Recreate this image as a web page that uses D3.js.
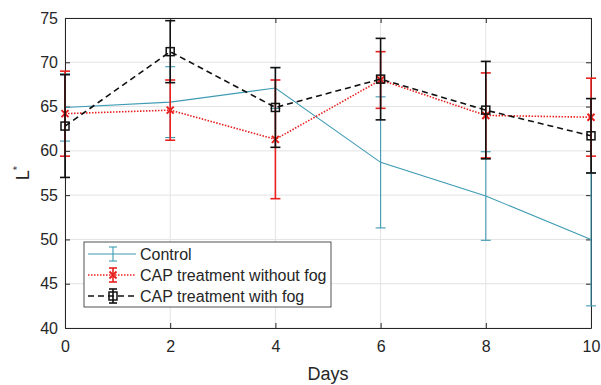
<!DOCTYPE html>
<html>
<head>
<meta charset="utf-8">
<script src="https://d3js.org/d3.v7.min.js"></script>
<style>
  body { margin: 0; background: #fff; }
  text { font-family: "Liberation Sans", Arial, sans-serif; fill: #262626; }
</style>
</head>
<body>
<div id="chart"></div>
<script>
// data
const days = [0, 2, 4, 6, 8, 10];
const controlMean = [64.9, 65.5, 67.1, 58.7, 54.9, 50.0];
const controlErr = [3.8, 4.0, 2.3, 7.4, 5.0, 7.5];
const noFogMean = [64.2, 64.6, 61.3, 68.0, 64.0, 63.8];
const noFogErr = [4.8, 3.4, 6.7, 3.2, 4.8, 4.4];
const fogMean = [62.8, 71.2, 64.9, 68.1, 64.6, 61.7];
const fogErr = [5.8, 3.5, 4.5, 4.6, 5.5, 4.2];
const xTicks = [0, 2, 4, 6, 8, 10];
const yTicks = [40, 45, 50, 55, 60, 65, 70, 75];

const W = 601, H = 385;
const margin = { top: 18, right: 10, bottom: 57, left: 65 };
const width = W - margin.left - margin.right;
const height = H - margin.top - margin.bottom;

const svg = d3.select("#chart").append("svg")
    .attr("width", W).attr("height", H);
const g = svg.append("g")
    .attr("transform", `translate(${margin.left},${margin.top})`);

const x = d3.scaleLinear().domain([0, 10]).range([0, width]);
const y = d3.scaleLinear().domain([40, 75]).range([height, 0]);

// grid
g.append("g").selectAll("line").data(xTicks).enter().append("line")
    .attr("x1", d => x(d)).attr("x2", d => x(d))
    .attr("y1", 0).attr("y2", height)
    .attr("stroke", "#e3e3e3");
g.append("g").selectAll("line").data(yTicks).enter().append("line")
    .attr("x1", 0).attr("x2", width)
    .attr("y1", d => y(d)).attr("y2", d => y(d))
    .attr("stroke", "#e3e3e3");

// axes (MATLAB style: inward ticks, box)
const axStyle = a => {
    a.select(".domain").attr("stroke", "#262626");
    a.selectAll(".tick line").attr("stroke", "#262626");
    a.selectAll("text").style("font-size", "16px").attr("fill", "#262626");
};
g.append("g").attr("transform", `translate(0,${height})`)
    .call(d3.axisBottom(x).tickValues(xTicks).tickSizeInner(-5).tickSizeOuter(0).tickPadding(13))
    .call(axStyle);
g.append("g")
    .call(d3.axisLeft(y).tickValues(yTicks).tickSizeInner(-5).tickSizeOuter(0).tickPadding(7))
    .call(axStyle);
g.append("g")
    .call(d3.axisTop(x).tickValues(xTicks).tickSizeInner(-5).tickSizeOuter(0).tickFormat(""))
    .call(axStyle);
g.append("g").attr("transform", `translate(${width},0)`)
    .call(d3.axisRight(y).tickValues(yTicks).tickSizeInner(-5).tickSizeOuter(0).tickFormat(""))
    .call(axStyle);

// series
function drawSeries(mean, err, color, dash, lw, marker) {
    const pts = days.map((d, i) => ({ d, m: mean[i], e: err[i] }));
    const line = d3.line().x(p => x(p.d)).y(p => y(p.m));
    g.append("path").datum(pts)
        .attr("fill", "none").attr("stroke", color)
        .attr("stroke-width", lw).attr("stroke-dasharray", dash)
        .attr("d", line);
    const eb = g.append("g");
    pts.forEach(p => {
        const cx = x(p.d), top = y(p.m + p.e), bot = y(p.m - p.e);
        eb.append("line").attr("x1", cx).attr("x2", cx).attr("y1", top).attr("y2", bot)
            .attr("stroke", color).attr("stroke-width", lw);
        [top, bot].forEach(yy => eb.append("line")
            .attr("x1", cx - 5).attr("x2", cx + 5).attr("y1", yy).attr("y2", yy)
            .attr("stroke", color).attr("stroke-width", lw));
        marker(eb, cx, y(p.m));
    });
}
const noMarker = () => {};
const xMarker = (sel, cx, cy) => {
    sel.append("path").attr("d", `M${cx-3.5},${cy-3.5}L${cx+3.5},${cy+3.5}M${cx-3.5},${cy+3.5}L${cx+3.5},${cy-3.5}`)
        .attr("stroke", "#e8201e").attr("stroke-width", 2);
};
const sqMarker = (sel, cx, cy) => {
    sel.append("rect").attr("x", cx - 4).attr("y", cy - 4).attr("width", 8).attr("height", 8)
        .attr("fill", "none").attr("stroke", "#111").attr("stroke-width", 1.5);
};

drawSeries(controlMean, controlErr, "#3f9bb3", null, 1.1, noMarker);
drawSeries(noFogMean, noFogErr, "#e8201e", "1.5,1.5", 1.6, xMarker);
drawSeries(fogMean, fogErr, "#111", "6,4", 1.6, sqMarker);

// legend
const legend = svg.append("g").attr("transform", "translate(84,242)");
legend.append("rect").attr("width", 247).attr("height", 65)
    .attr("fill", "#fff").attr("stroke", "#262626").attr("stroke-width", 0.8);
const entries = [
    { name: "Control", color: "#3f9bb3", dash: null, lw: 1.1, marker: noMarker },
    { name: "CAP treatment without fog", color: "#e8201e", dash: "1.5,1.5", lw: 1.6, marker: xMarker },
    { name: "CAP treatment with fog", color: "#111", dash: "6,4", lw: 1.6, marker: sqMarker }
];
entries.forEach((e, i) => {
    const yy = 12 + i * 21;
    const r = legend.append("g");
    r.append("line").attr("x1", 4).attr("x2", 52).attr("y1", yy).attr("y2", yy)
        .attr("stroke", e.color).attr("stroke-width", e.lw).attr("stroke-dasharray", e.dash);
    r.append("line").attr("x1", 29).attr("x2", 29).attr("y1", yy - 7).attr("y2", yy + 7)
        .attr("stroke", e.color).attr("stroke-width", e.lw);
    [yy - 7, yy + 7].forEach(v => r.append("line").attr("x1", 25).attr("x2", 33)
        .attr("y1", v).attr("y2", v).attr("stroke", e.color).attr("stroke-width", e.lw));
    e.marker(r, 29, yy);
    r.append("text").attr("x", 56).attr("y", yy + 6).style("font-size", "16px").text(e.name);
});

// axis labels
svg.append("text").attr("x", margin.left + width / 2).attr("y", 380)
    .attr("text-anchor", "middle").style("font-size", "18px").text("Days");
const yl = svg.append("text")
    .attr("transform", `translate(29,173) rotate(-90)`)
    .attr("text-anchor", "middle").style("font-size", "18px");
yl.append("tspan").text("L");
yl.append("tspan").attr("dy", -8).style("font-size", "11px").text("*");
</script>
</body>
</html>
